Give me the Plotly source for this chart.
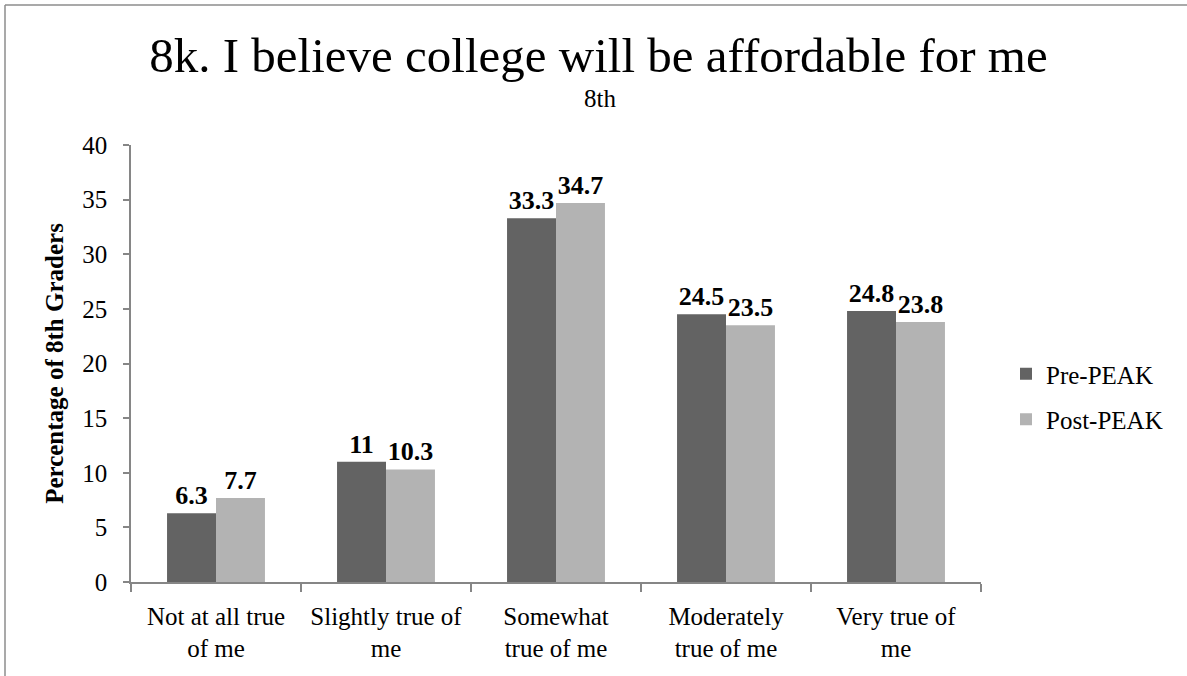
import plotly.graph_objects as go

categories = ["Not at all true<br>of me", "Slightly true of<br>me", "Somewhat<br>true of me",
              "Moderately<br>true of me", "Very true of<br>me"]
pre_peak = [6.3, 11, 33.3, 24.5, 24.8]
post_peak = [7.7, 10.3, 34.7, 23.5, 23.8]
pre_labels = ["6.3", "11", "33.3", "24.5", "24.8"]
post_labels = ["7.7", "10.3", "34.7", "23.5", "23.8"]

FONT = "Liberation Serif"

W, H = 1187, 676
L, R, T, B = 131, 206, 145, 94
pw, ph = W - L - R, H - T - B

fig = go.Figure()
fig.add_trace(go.Bar(x=categories, y=pre_peak, name="Pre-PEAK", marker_color="#636363",
                     legendgroup="pre", marker_line_width=0,
                     text=pre_labels, textposition="outside", cliponaxis=False,
                     textfont=dict(family=FONT, size=26, color="black", weight="bold")))
fig.add_trace(go.Bar(x=categories, y=post_peak, name="Post-PEAK", marker_color="#b3b3b3",
                     legendgroup="post", marker_line_width=0,
                     text=post_labels, textposition="outside", cliponaxis=False,
                     textfont=dict(family=FONT, size=26, color="black", weight="bold")))

fig.update_layout(
    width=W, height=H,
    margin=dict(l=L, r=R, t=T, b=B),
    paper_bgcolor="white", plot_bgcolor="white",
    font=dict(family=FONT, size=25, color="black"),
    barmode="group", bargap=0.424, bargroupgap=0,
    showlegend=True,
    legend=dict(x=(1006 - L) / pw, y=(H - B - 351) / ph, xanchor="left", yanchor="top",
                font=dict(family=FONT, size=25), itemwidth=30, tracegroupgap=10),
    title=dict(text="8k. I believe college will be affordable for me", x=598.5 / W, xref="container",
               xanchor="center", y=1 - 55 / H, yref="container", yanchor="middle",
               font=dict(family=FONT, size=49, color="black")),
    annotations=[dict(text="8th", x=(600 - L) / pw, xref="paper", xanchor="center",
                      y=(H - B - 98.5) / ph, yref="paper", yanchor="middle", showarrow=False,
                      font=dict(family=FONT, size=25, color="black"))],
)

fig.update_xaxes(showline=True, linecolor="#868686", linewidth=1.5, ticks="outside",
                 tickson="boundaries", ticklen=8, tickcolor="#868686", tickwidth=1.5,
                 showgrid=False, tickfont=dict(family=FONT, size=25), ticklabelstandoff=11)
fig.update_yaxes(range=[0, 40], dtick=5, showline=True, linecolor="#868686", linewidth=1.5,
                 ticks="outside", ticklen=6, tickcolor="#868686", tickwidth=1.5,
                 showgrid=False, zeroline=False, tickfont=dict(family=FONT, size=25),
                 ticklabelstandoff=11,
                 title=dict(text="<b>Percentage of 8th Graders</b>", standoff=12,
                            font=dict(family=FONT, size=25)))

# outer frame (top and left edges visible)
x_left = (5 - L) / pw
y_top = (H - 5 - B) / ph
fig.add_shape(type="line", xref="paper", yref="paper", x0=x_left, x1=(W + 10 - L) / pw,
              y0=y_top, y1=y_top, line=dict(color="#8c8c8c", width=1.5))
fig.add_shape(type="line", xref="paper", yref="paper", x0=x_left, x1=x_left,
              y0=(-10 - B) / ph, y1=y_top, line=dict(color="#8c8c8c", width=1.5))

fig.write_html("out.html", config={"displayModeBar": False},
               post_script="document.body.style.margin='0';document.body.style.overflow='hidden';")
